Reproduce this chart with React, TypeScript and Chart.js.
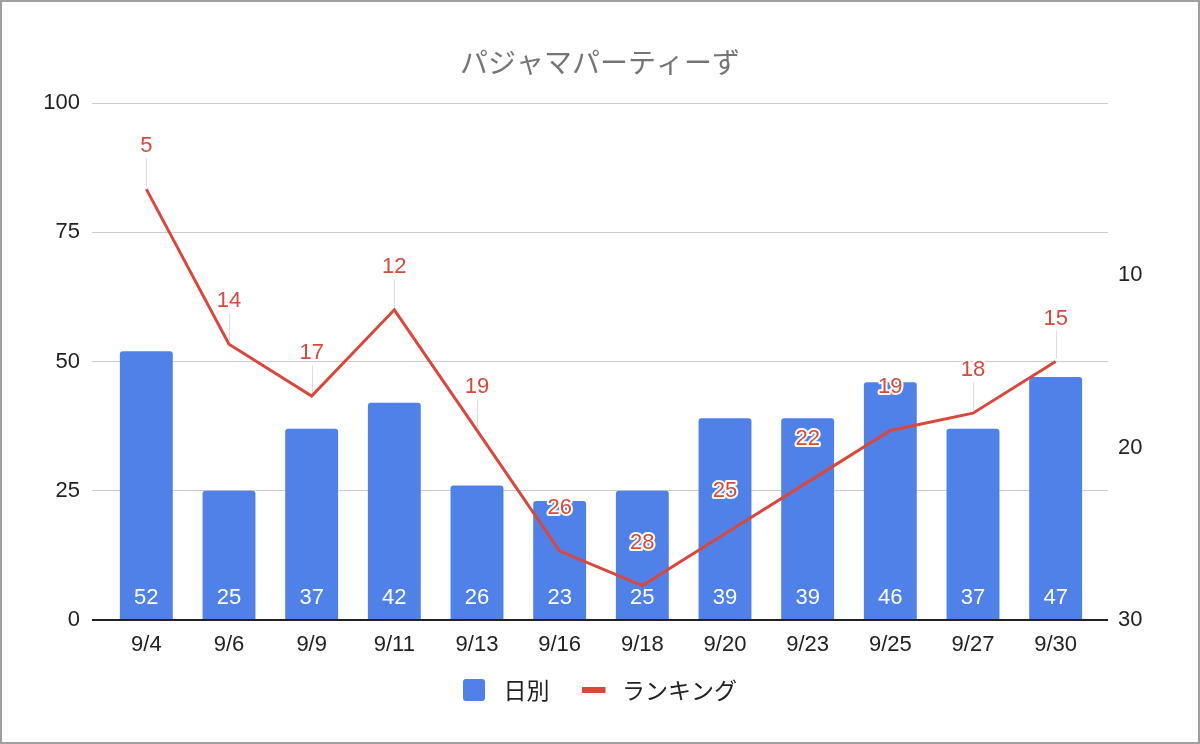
import React, { useEffect, useRef } from 'react';
import { Chart, registerables } from 'chart.js';

Chart.register(...registerables);

// ---- data ----
const categories = ['9/4', '9/6', '9/9', '9/11', '9/13', '9/16', '9/18', '9/20', '9/23', '9/25', '9/27', '9/30'];
const dailyCounts = [52, 25, 37, 42, 26, 23, 25, 39, 39, 46, 37, 47];
const rankings = [5, 14, 17, 12, 19, 26, 28, 25, 22, 19, 18, 15];
const seriesNames = ['日別', 'ランキング'];
const chartTitle = 'パジャマパーティーず';
const leftAxisMax = 100;
const leftTickStep = 25;
const rightAxisMax = 30;
const rightTicks = [10, 20, 30];

// ---- styles ----
const LATIN = "'Liberation Sans', Arial, 'Noto Sans CJK JP', sans-serif";
const CJK = "'Noto Sans CJK JP', 'Liberation Sans', sans-serif";
const BLUE = '#4f81e8';
const RED = '#d9483b';
const TEXT = '#222222';
const GRID = '#cccccc';

const gridColor = (c: any) => (c.tick && c.tick.value === 0 ? TEXT : GRID);
const gridWidth = (c: any) => (c.tick && c.tick.value === 0 ? 2 : 1);

const labelPlugin = {
  id: 'valueLabels',
  beforeDatasetsDraw(chart: any) {
    const ctx = chart.ctx;
    const meta = chart.getDatasetMeta(1);
    ctx.save();
    ctx.strokeStyle = '#dddddd';
    ctx.lineWidth = 1;
    meta.data.forEach((pt: any) => {
      const x = Math.round(pt.x) + 0.5;
      ctx.beginPath();
      ctx.moveTo(x, pt.y - 31);
      ctx.lineTo(x, pt.y - 3);
      ctx.stroke();
    });
    ctx.restore();
  },
  afterDatasetsDraw(chart: any) {
    const ctx = chart.ctx;
    ctx.save();
    ctx.textAlign = 'center';
    ctx.textBaseline = 'middle';
    ctx.font = `22px ${LATIN}`;
    // bar labels
    const barMeta = chart.getDatasetMeta(0);
    barMeta.data.forEach((bar: any, i: number) => {
      ctx.fillStyle = '#ffffff';
      ctx.fillText(String(chart.data.datasets[0].data[i]), bar.x, bar.base - 21);
    });
    // line labels
    const lineMeta = chart.getDatasetMeta(1);
    lineMeta.data.forEach((pt: any, i: number) => {
      const txt = String(chart.data.datasets[1].data[i]);
      const y = pt.y - 43;
      ctx.lineJoin = 'round';
      ctx.lineWidth = 4;
      ctx.strokeStyle = '#ffffff';
      ctx.strokeText(txt, pt.x, y);
      ctx.fillStyle = RED;
      ctx.fillText(txt, pt.x, y);
    });
    ctx.restore();
  },
};

function makeSquare(): HTMLCanvasElement {
  const c = document.createElement('canvas');
  c.width = 29;
  c.height = 24;
  const g = c.getContext('2d')!;
  g.fillStyle = BLUE;
  g.beginPath();
  (g as any).roundRect ? (g as any).roundRect(0, 1, 22, 22, 3) : g.rect(0, 1, 22, 22);
  g.fill();
  return c;
}

function makeLine(): HTMLCanvasElement {
  const c = document.createElement('canvas');
  c.width = 29;
  c.height = 24;
  const g = c.getContext('2d')!;
  g.fillStyle = RED;
  g.fillRect(0, 9, 24, 6);
  return c;
}

export default function App() {
  const ref = useRef<HTMLCanvasElement | null>(null);

  useEffect(() => {
    if (!ref.current) return;
    const legendIcons = [makeSquare(), makeLine()];
    const chart = new Chart(ref.current, {
      data: {
        labels: categories,
        datasets: [
          {
            type: 'bar',
            label: seriesNames[0],
            data: dailyCounts,
            backgroundColor: BLUE,
            yAxisID: 'y',
            order: 1,
            categoryPercentage: 1,
            barPercentage: 0.64,
            borderRadius: { topLeft: 3, topRight: 3, bottomLeft: 0, bottomRight: 0 },
            borderSkipped: 'start',
          } as any,
          {
            type: 'line',
            label: seriesNames[1],
            data: rankings,
            borderColor: RED,
            backgroundColor: RED,
            borderWidth: 3,
            pointRadius: 0,
            pointHoverRadius: 0,
            tension: 0,
            fill: false,
            yAxisID: 'y1',
            order: 0,
          } as any,
        ],
      },
      options: {
        animation: false,
        responsive: false,
        maintainAspectRatio: false,
        events: [],
        layout: { padding: { top: 0, left: 0, right: 0, bottom: 32.5 } },
        plugins: {
          tooltip: { enabled: false },
          title: {
            display: true,
            text: chartTitle,
            color: '#757575',
            font: { size: 28, family: CJK, weight: 'normal' as any },
            padding: { top: 45.2, bottom: 24.2 },
          },
          legend: {
            display: true,
            position: 'bottom',
            labels: {
              usePointStyle: true,
              pointStyleWidth: 29,
              padding: 32,
              color: TEXT,
              font: { size: 23, family: CJK },
              generateLabels: (ch: any) =>
                ch.data.datasets.map((ds: any, i: number) => ({
                  text: ds.label,
                  fillStyle: 'transparent',
                  strokeStyle: 'transparent',
                  lineWidth: 0,
                  pointStyle: legendIcons[i],
                  hidden: false,
                  datasetIndex: i,
                  fontColor: TEXT,
                })),
            },
          },
        },
        scales: {
          x: {
            type: 'category',
            offset: true,
            grid: { display: false, drawTicks: false },
            border: { display: true, color: TEXT, width: 2, z: 1 } as any,
            ticks: { color: TEXT, font: { size: 22, family: LATIN }, padding: 12, maxRotation: 0, autoSkip: false },
            afterFit: (s: any) => {
              s.height = 26.5;
              // let the tick labels spill below the (short) axis box instead of being clipped
              s._computeLabelArea = () => undefined;
            },
          },
          y: {
            type: 'linear',
            position: 'left',
            min: 0,
            max: leftAxisMax,
            ticks: { stepSize: leftTickStep, color: TEXT, font: { size: 22, family: LATIN }, padding: 12 },
            grid: { color: gridColor, lineWidth: gridWidth, drawTicks: true, tickLength: 13 },
            border: { display: false },
            afterFit: (s: any) => {
              s.width = 105;
            },
          },
          yGrid: {
            type: 'linear',
            position: 'right',
            weight: 0,
            min: 0,
            max: leftAxisMax,
            ticks: { display: false, stepSize: leftTickStep },
            grid: { color: gridColor, lineWidth: gridWidth, drawOnChartArea: false, drawTicks: true, tickLength: 11 },
            border: { display: false },
            afterFit: (s: any) => {
              s.width = 11;
            },
          },
          y1: {
            type: 'linear',
            position: 'right',
            weight: 1,
            min: 0,
            max: rightAxisMax,
            reverse: true,
            afterBuildTicks: (s: any) => {
              s.ticks = rightTicks.map((v) => ({ value: v }));
            },
            ticks: { color: TEXT, font: { size: 22, family: LATIN }, padding: 10 },
            grid: { display: false, drawTicks: false },
            border: { display: false },
            afterFit: (s: any) => {
              s.width = 92;
            },
          },
        } as any,
      },
      plugins: [labelPlugin],
    } as any);
    return () => chart.destroy();
  }, []);

  return (
    <div style={{ position: 'absolute', left: 0, top: 0, width: 1200, height: 744, background: '#ffffff' }}>
      <canvas ref={ref} width={1200} height={744} style={{ position: 'absolute', left: 0, top: 0, width: 1200, height: 744 }} />
      <div
        style={{
          position: 'absolute',
          left: 0,
          top: 0,
          width: 1200,
          height: 744,
          border: '2px solid #9e9e9e',
          boxSizing: 'border-box',
          pointerEvents: 'none',
        }}
      />
    </div>
  );
}
